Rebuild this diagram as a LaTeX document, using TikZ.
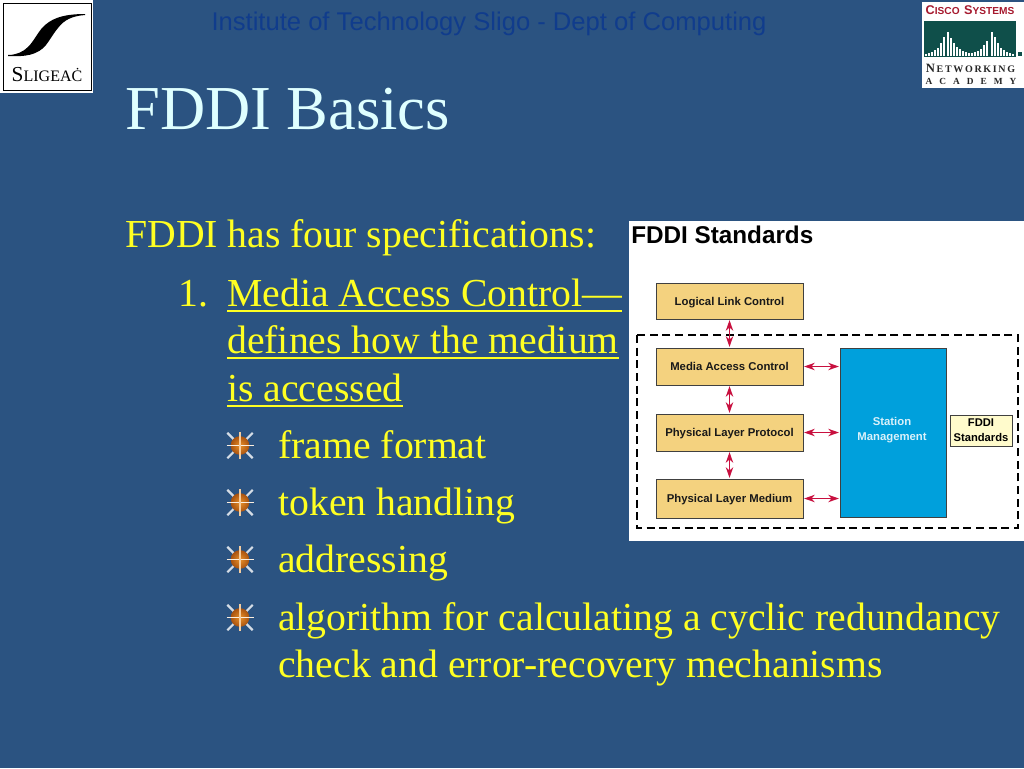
\documentclass[tikz,border=0pt]{standalone}
\usepackage{fontspec}
\usetikzlibrary{arrows.meta}
\setmainfont{Liberation Serif}
\newfontfamily\arialfont{Liberation Sans}
\definecolor{slidebg}{HTML}{2B5381}
\definecolor{bodytext}{HTML}{FFFF22}
\definecolor{titletext}{HTML}{DFFFFF}
\definecolor{headtext}{HTML}{103C8C}
\definecolor{layerfill}{HTML}{F4D27F}
\definecolor{stationfill}{HTML}{00A0DC}
\definecolor{notefill}{HTML}{FFFBCC}
\definecolor{linkred}{HTML}{C8103F}
\definecolor{ciscored}{HTML}{A6192E}
\definecolor{ciscogreen}{HTML}{0F4F4A}
\definecolor{starbrown}{HTML}{A8520F}
\definecolor{starcore}{HTML}{E8902A}
\tikzset{
    layerbox/.style={draw=black!75, line width=0.6pt, fill=layerfill, minimum width=110.25pt, inner sep=0pt,
        text height=6pt, text depth=0pt, font=\arialfont\bfseries\fontsize{8.5}{9}\selectfont, text=black!90},
    linkarrow/.style={{Stealth[length=8pt, width=5.5pt, inset=2.5pt]}-{Stealth[length=8pt, width=5.5pt, inset=2.5pt]},
        draw=linkred, line width=1.2pt, shorten <=0.5pt, shorten >=0.5pt},
    bodyline/.style={anchor=base west, inner sep=0pt, text=bodytext, font=\fontsize{29.78}{32}\selectfont},
    bodyrule/.style={draw=bodytext, line width=1.4pt},
}
\begin{document}
\begin{tikzpicture}[x=0.75pt, y=-0.75pt]
    \fill[slidebg] (0, 0) rectangle (1024, 768);
    \useasboundingbox (0, 0) rectangle (1024, 768);

    % header and title
    \node[anchor=base, inner sep=0pt, text=headtext, font=\arialfont\fontsize{19.2}{22}\selectfont] (head) at (489, 30) {Institute of Technology Sligo - Dept of Computing};
    \node[anchor=base west, inner sep=0pt, text=titletext, font=\fontsize{46.9}{50}\selectfont] (title) at (125, 129.3) {FDDI Basics};

    % left logo
    \fill[white] (0, 0) rectangle (93, 93);
    \draw[black, line width=0.5pt] (3, 3) rectangle (91, 90);
    \fill[black] (8, 55) .. controls (16, 55) and (23, 52) .. (28, 47) .. controls (34, 41) and (38, 32) .. (43, 27)
        .. controls (50, 20) and (60, 14) .. (85, 14) -- (85, 15) .. controls (72, 16) and (64, 20) .. (58, 28)
        .. controls (53, 34) and (50, 40) .. (46, 45) .. controls (38, 55) and (25, 57) .. (8, 56) -- cycle;
    \node[inner sep=0pt, font=\fontsize{16}{16}\selectfont] (sligo) at (47, 75) {S{\fontsize{12}{12}\selectfont LIGEAĊ}};

    % right logo
    \fill[white] (922, 2) rectangle (1024, 88);
    \node[inner sep=0pt, text=ciscored, font=\arialfont\bfseries\fontsize{7.6}{9}\selectfont] (cisco) at (970, 10.5) {{\fontsize{9.5}{9}\selectfont C}ISCO\, {\fontsize{9.5}{9}\selectfont S}YSTEMS};
    \fill[ciscogreen] (924, 21) rectangle (1016, 57);
    \foreach \x/\h in {926/2, 929/3, 932/4, 935/6, 938/8, 941/13, 944/19, 948/24, 951/18, 954/13, 957/9, 960/7, 963/5, 966/4, 969/3, 972/3, 975/4, 978/5, 981/7, 984/11, 987/15, 992/24, 995/19, 998/13, 1001/8, 1004/6, 1007/4, 1010/3, 1013/2}
        \draw[white, line width=0.8pt] (\x, 56) -- (\x, 56-\h);
    \fill[ciscogreen] (1018, 52) rectangle (1022, 56);
    \node[inner sep=0pt, font=\bfseries\fontsize{7.5}{9}\selectfont, text=black!85] (netw) at (970.5, 68) {{\fontsize{9.5}{9}\selectfont N}\,E\,T\,W\,O\,R\,K\,I\,N\,G};
    \node[inner sep=0pt, font=\bfseries\fontsize{7}{8}\selectfont, text=black!85] (acad) at (971, 81) {A\ \ \ C\ \ \ A\ \ \ D\ \ \ E\ \ \ M\ \ \ Y};

    % slide text
    \node[bodyline] (intro) at (125, 247.5) {FDDI has four specifications:};
    \node[bodyline] (num) at (178, 306) {1.};
    \node[bodyline] (macA) at (227, 306) {Media Access Control—};
    \node[bodyline] (macB) at (227, 353) {defines how the medium};
    \node[bodyline] (macC) at (227, 401) {is accessed};
    \node[bodyline] (frame) at (278, 458) {frame format};
    \node[bodyline] (token) at (278, 515) {token handling};
    \node[bodyline] (addr) at (278, 572.7) {addressing};
    \node[bodyline] (algoA) at (278, 630) {algorithm for calculating a cyclic redundancy};
    \node[bodyline] (algoB) at (278, 677) {check and error-recovery mechanisms};
    \foreach \n in {macA, macB, macC}
        \draw[bodyrule] ([yshift=-3.75pt]\n.base west) -- ([yshift=-3.75pt]\n.base east);

    % star bullets
    \foreach \y in {445.5, 502.5, 559.5, 617.5} {
        \foreach \a in {45, 135, 225, 315}
            \draw[white!80!slidebg, line width=1.6pt] (240, \y) -- ++(\a:18);
        \shade[inner color=starcore, outer color=starbrown] (240, \y) circle (7pt);
        \draw[white!85!starcore, line width=1.3pt] (226.5, \y) -- (253.5, \y);
        \draw[white!55!starcore, line width=1.1pt] (240, \y-13.5) -- (240, \y+13.5);
    }

    % figure
    \fill[white] (629, 221) rectangle (1024, 541);
    \node[anchor=base west, inner sep=0pt, font=\arialfont\bfseries\fontsize{18.2}{20}\selectfont] (figtitle) at (631, 243) {FDDI Standards};
    \draw[black, dashed, line width=1.1pt, dash pattern=on 6pt off 3.5pt] (637, 335) rectangle (1018, 528);

    \node[layerbox, minimum height=27pt] (llc) at (729.5, 301) {Logical Link Control};
    \node[layerbox, minimum height=27.75pt] (mac) at (729.5, 366.5) {Media Access Control};
    \node[layerbox, minimum height=27.75pt] (plp) at (729.5, 432.5) {Physical Layer Protocol};
    \node[layerbox, minimum height=29.25pt] (plm) at (729.5, 498.5) {Physical Layer Medium};
    \node[draw=black!75, line width=0.6pt, fill=stationfill, minimum width=79.5pt, minimum height=126.75pt, inner sep=0pt,
        label={[align=center, yshift=1.9pt, xshift=-0.75pt, text=white!85!stationfill, font=\arialfont\bfseries\fontsize{8.5}{10.8}\selectfont]center:Station\\Management}] (sm) at (893, 432.5) {};
    \node[draw=black!75, line width=0.6pt, fill=notefill, minimum width=46.5pt, minimum height=23.25pt, inner sep=0pt, align=center,
        font=\arialfont\bfseries\fontsize{8.4}{11}\selectfont] (std) at (981, 430.5) {FDDI\\Standards};

    \draw[linkarrow] (llc) -- (mac);
    \draw[linkarrow] (mac) -- (plp);
    \draw[linkarrow] (plp) -- (plm);
    \draw[linkarrow] (mac) -- (mac -| sm.west);
    \draw[linkarrow] (plp) -- (plp -| sm.west);
    \draw[linkarrow] (plm) -- (plm -| sm.west);
\end{tikzpicture}
\end{document}
